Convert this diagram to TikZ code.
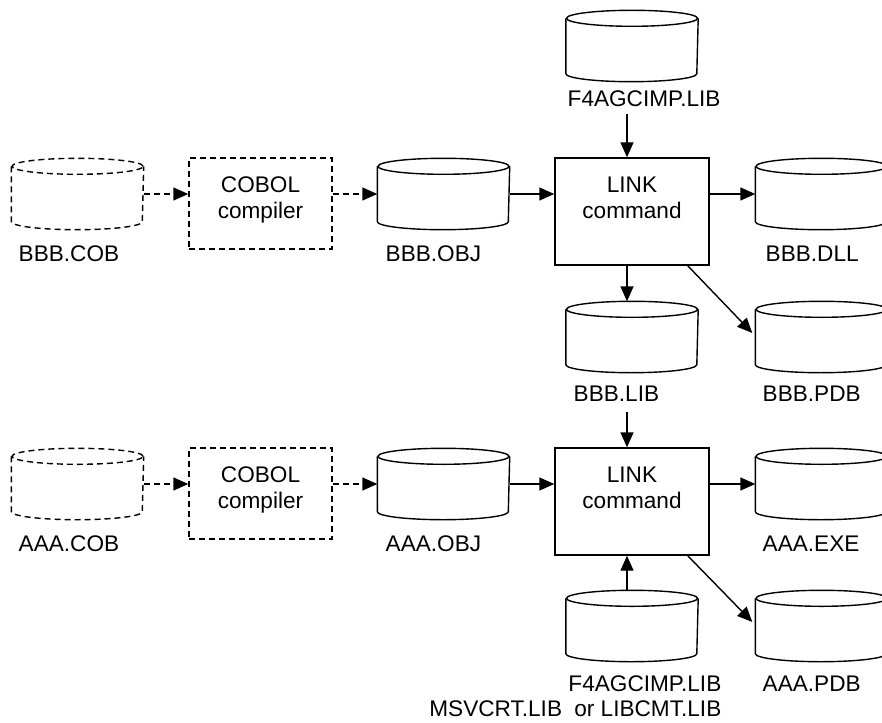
\documentclass[tikz,border=0pt]{standalone}
\usepackage{fontspec}
\setmainfont{Liberation Sans}
\usetikzlibrary{arrows.meta,calc}
\newcommand\cylout[2][]{%
  \draw[#1] ($(#2.north west)+(0,-8)$) -- ($(#2.south west)+(0,8)$)
    arc[start angle=180,end angle=360,x radius=65.5,y radius=8]
    -- ($(#2.north east)+(0,-8)$);
  \draw[#1] ($(#2.north)+(0,-8)$) ellipse[x radius=65.5,y radius=8];
}
\begin{document}
\begin{tikzpicture}[x=1pt,y=1pt,
  font=\fontsize{22.6}{26}\selectfont,
  line width=1.4pt,
  cylbox/.style={rectangle,inner sep=0pt,minimum width=131pt,minimum height=70pt},
  procbox/.style={draw,rectangle,inner sep=0pt},
  dsh/.style={dash pattern=on 6pt off 4pt},
  arr/.style={-{Triangle[length=15pt,width=13pt]}},
  lbl/.style={anchor=base west,inner sep=0pt},
  lblr/.style={anchor=base east,inner sep=0pt},
  btxt/.style={anchor=base,inner sep=0pt}]
\useasboundingbox (0,0) rectangle (882,-722);

% cylinders
\node[cylbox] (f4T)  at (632,-46) {};
\node[cylbox] (cobB) at (77.5,-194) {};
\node[cylbox] (objB) at (443.5,-194) {};
\node[cylbox] (dllB) at (821.5,-194) {};
\node[cylbox] (libT) at (632,-337) {};
\node[cylbox] (pdbT) at (821.5,-337) {};
\node[cylbox] (cobA) at (77.5,-484) {};
\node[cylbox] (objA) at (443.5,-484) {};
\node[cylbox] (exeA) at (821.5,-484) {};
\node[cylbox] (f4B)  at (632,-626) {};
\node[cylbox] (pdbB) at (821.5,-626) {};
\foreach \n in {f4T,objB,dllB,libT,pdbT,objA,exeA,f4B,pdbB}{\cylout{\n}}
\cylout[dsh]{cobB}
\cylout[dsh]{cobA}

% boxes
\node[procbox,dsh,minimum width=143pt,minimum height=91pt] (compB) at (260.5,-203.5) {};
\node[procbox,minimum width=154pt,minimum height=107pt] (linkB) at (632,-211.5) {};
\node[procbox,dsh,minimum width=143pt,minimum height=91pt] (compA) at (260.5,-493.5) {};
\node[procbox,minimum width=154pt,minimum height=107pt] (linkA) at (632,-501.5) {};

\node[btxt] (compB1) at (260.5,-192) {COBOL};
\node[btxt] (compB2) at (260.5,-218) {compiler};
\node[btxt] (linkB1) at (632,-192) {LINK};
\node[btxt] (linkB2) at (632,-218) {command};
\node[btxt] (compA1) at (260.5,-482) {COBOL};
\node[btxt] (compA2) at (260.5,-508) {compiler};
\node[btxt] (linkA1) at (632,-482) {LINK};
\node[btxt] (linkA2) at (632,-508) {command};

% labels
\node[lbl] (f4Tl)  at (567,-107) {F4AGCIMP.LIB};
\node[lbl] (cobBl) at (18,-261) {BBB.COB};
\node[lbl] (objBl) at (385,-261) {BBB.OBJ};
\node[lbl] (dllBl) at (765,-261) {BBB.DLL};
\node[lbl] (libTl) at (573,-401) {BBB.LIB};
\node[lbl] (pdbTl) at (762,-401) {BBB.PDB};
\node[lbl] (cobAl) at (18,-551) {AAA.COB};
\node[lbl] (objAl) at (385,-551) {AAA.OBJ};
\node[lbl] (exeAl) at (762,-551) {AAA.EXE};
\node[lbl] (pdbBl) at (762,-691) {AAA.PDB};
\node[lblr] (f4Bl) at (722,-691) {F4AGCIMP.LIB};
\node[lblr] (msvl) at (722,-716) {MSVCRT.LIB\hspace{6pt} or LIBCMT.LIB};

% connectors, upper
\draw[arr,dsh] (cobB.east) -- (cobB.east -| compB.west);
\draw[arr,dsh] (compB.east |- objB.west) -- (objB.west);
\draw[arr] (objB.east) -- (objB.east -| linkB.west);
\draw[arr] (linkB.east |- dllB.west) -- (dllB.west);
\draw[arr] ($(linkB.north |- f4Tl.base)+(-5,-7)$) -- ($(linkB.north)+(-5,0)$);
\draw[arr] ($(linkB.south)+(-5,0)$) -- ($(libT.north)+(-5,0)$);
\draw[arr] ($(linkB.south east)+(-22,0)$) -- ($(pdbT.west)+(-3,4)$);
% connectors, lower
\draw[arr] ($(linkA.north |- libTl.base)+(-5,-11)$) -- ($(linkA.north)+(-5,0)$);
\draw[arr,dsh] (cobA.east) -- (cobA.east -| compA.west);
\draw[arr,dsh] (compA.east |- objA.west) -- (objA.west);
\draw[arr] (objA.east) -- (objA.east -| linkA.west);
\draw[arr] (linkA.east |- exeA.west) -- (exeA.west);
\draw[arr] ($(f4B.north)+(-5,0)$) -- ($(linkA.south)+(-5,0)$);
\draw[arr] ($(linkA.south east)+(-22,0)$) -- ($(pdbB.west)+(-3,4)$);
\end{tikzpicture}
\end{document}
